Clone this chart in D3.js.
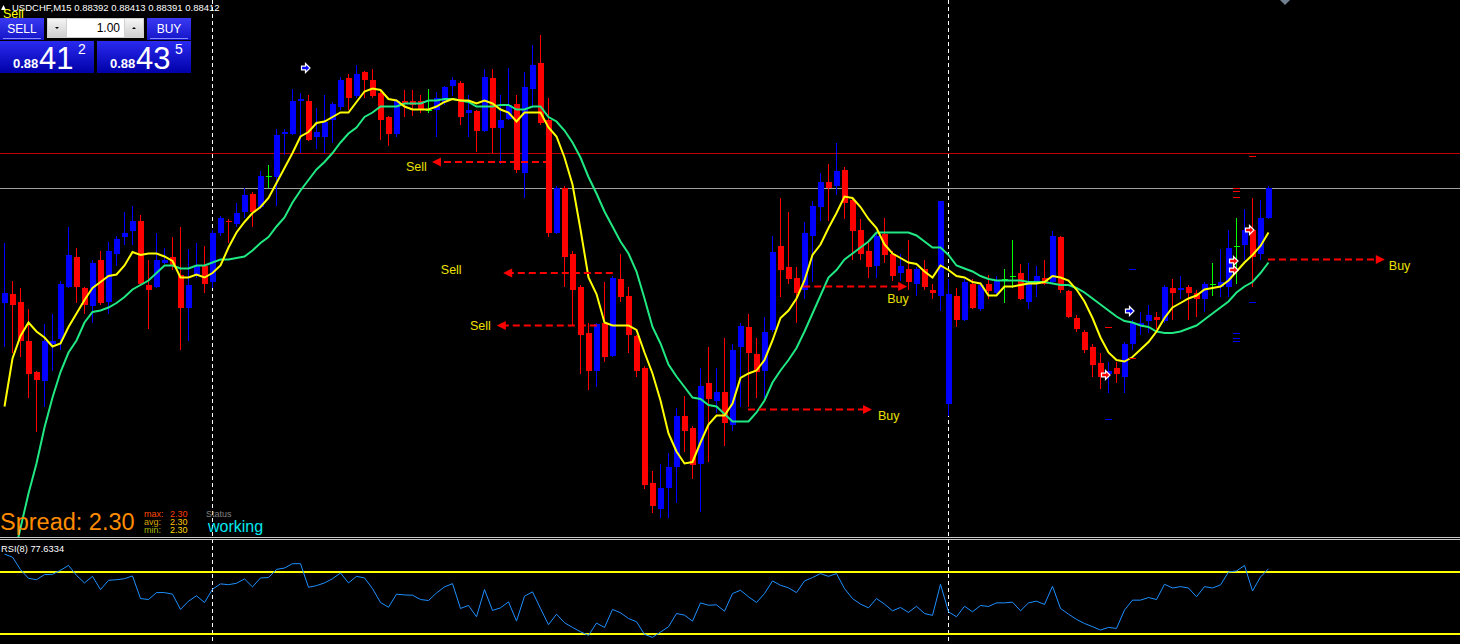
<!DOCTYPE html>
<html>
<head>
<meta charset="utf-8">
<script src="https://cdn.jsdelivr.net/npm/d3@7"></script>
<style>
  body { margin: 0; background: #000; overflow: hidden; }
  svg { display: block; }
</style>
</head>
<body>
<svg id="chart" width="1460" height="644"></svg>
<script>
// USDCHF M15 - prices in points (1 point = 0.00001)
const symbol = 'USDCHF,M15';

const opens = [88335,88341,88336,88310,88289,88283,88308,88311,88346,88366,
  88345,88333,88364,88336,88368,88379,88383,88390,88347,88346,
  88362,88366,88354,88332,88353,88360,88349,88382,88390,88388,
  88396,88408,88399,88420,88419,88448,88448,88470,88470,88446,
  88446,88457,88466,88485,88473,88489,88484,88475,88459,88448,
  88470,88470,88470,88464,88464,88469,88480,88482,88462,88463,
  88450,88485,88452,88458,88468,88422,88478,88495,88457,88382,
  88412,88368,88346,88315,88290,88322,88300,88351,88340,88313,
  88292,88215,88198,88212,88226,88260,88252,88228,88282,88270,
  88276,88254,88306,88319,88301,88290,88317,88373,88359,88352,
  88344,88380,88399,88416,88413,88424,88404,88384,88370,88360,
  88381,88368,88355,88358,88348,88358,88344,88340,88268,88340,
  88324,88348,88331,88348,88342,88351,88353,88355,88336,88349,
  88352,88349,88379,88343,88325,88316,88306,88295,88288,88292,
  88286,88308,88320,88323,88326,88323,88345,88344,88346,88342,
  88338,88348,88346,88346,88373,88374,88384,88368,88392];

const highs = [88375,88350,88345,88331,88290,88321,88328,88350,88386,88372,
  88346,88364,88370,88376,88380,88396,88400,88394,88364,88382,
  88372,88379,88386,88371,88375,88373,88384,88393,88391,88402,
  88412,88409,88423,88427,88451,88451,88478,88475,88474,88465,
  88474,88469,88486,88488,88494,88490,88491,88477,88460,88471,
  88477,88477,88474,88478,88476,88480,88486,88483,88474,88464,
  88491,88491,88474,88492,88474,88489,88507,88514,88472,88413,
  88413,88370,88347,88322,88322,88349,88353,88368,88346,88314,
  88293,88223,88228,88235,88265,88273,88253,88292,88306,88292,
  88312,88308,88322,88328,88312,88326,88380,88405,88396,88359,
  88389,88403,88422,88428,88442,88426,88406,88391,88375,88381,
  88392,88370,88368,88377,88359,88364,88348,88403,88351,88345,
  88351,88351,88348,88354,88353,88358,88377,88361,88362,88360,
  88364,88383,88380,88344,88327,88317,88308,88302,88296,88296,
  88309,88324,88329,88334,88329,88347,88351,88353,88347,88344,
  88349,88362,88371,88384,88392,88398,88405,88404,88413];

const lows = [88306,88302,88299,88272,88249,88266,88290,88304,88345,88335,
  88328,88322,88334,88328,88360,88374,88374,88347,88318,88345,
  88361,88357,88304,88310,88352,88342,88345,88380,88375,88386,
  88392,88386,88398,88412,88400,88434,88447,88435,88443,88438,
  88435,88442,88464,88464,88472,88472,88472,88444,88440,88446,
  88459,88460,88462,88462,88446,88467,88473,88454,88446,88436,
  88449,88435,88428,88457,88422,88405,88465,88454,88379,88381,
  88346,88320,88288,88277,88279,88296,88299,88336,88302,88286,
  88211,88195,88192,88192,88202,88236,88218,88196,88229,88262,
  88240,88250,88266,88266,88272,88272,88316,88339,88348,88322,
  88338,88349,88390,88390,88407,88391,88364,88364,88352,88352,
  88362,88350,88350,88344,88340,88344,88338,88330,88260,88319,
  88323,88331,88330,88338,88340,88335,88345,88337,88331,88339,
  88347,88348,88342,88325,88316,88302,88286,88278,88275,88282,
  88275,88304,88314,88315,88318,88322,88324,88338,88324,88326,
  88329,88340,88339,88339,88348,88364,88346,88364,88391];

const closes = [88342,88334,88310,88288,88284,88310,88310,88348,88367,88346,
  88334,88362,88335,88370,88378,88382,88390,88348,88344,88364,
  88364,88360,88332,88347,88360,88348,88382,88392,88389,88395,
  88407,88396,88420,88420,88447,88449,88470,88471,88444,88449,
  88456,88468,88484,88472,88488,88484,88473,88457,88448,88470,
  88468,88467,88464,88464,88472,88479,88484,88459,88464,88450,
  88486,88452,88457,88467,88424,88479,88494,88455,88382,88412,
  88366,88344,88314,88290,88321,88299,88352,88339,88314,88290,
  88214,88200,88212,88226,88260,88250,88227,88280,88271,88276,
  88255,88304,88320,88302,88289,88316,88369,88357,88351,88342,
  88382,88400,88416,88412,88423,88402,88383,88368,88359,88380,
  88367,88353,88360,88349,88358,88346,88342,88403,88341,88324,
  88349,88332,88347,88343,88350,88351,88353,88338,88350,88353,
  88348,88380,88344,88326,88318,88304,88294,88286,88290,88288,
  88308,88322,88322,88327,88324,88346,88342,88345,88342,88338,
  88348,88348,88349,88372,88373,88384,88366,88392,88412];

// moving averages as drawn (yellow fast, green slow)
const fastMA = [88266,88298,88313,88322,88316,88312,88306,88308,88319,88328,
  88337,88345,88349,88353,88354,88360,88369,88367,88368,88368,
  88366,88363,88352,88352,88354,88352,88355,88360,88372,88382,
  88389,88395,88399,88405,88415,88425,88435,88446,88449,88455,
  88456,88459,88462,88462,88469,88476,88478,88477,88471,88470,
  88466,88464,88464,88464,88466,88469,88471,88470,88470,88468,
  88470,88468,88464,88462,88456,88462,88462,88462,88452,88446,
  88432,88414,88384,88352,88341,88322,88320,88320,88320,88317,
  88302,88288,88270,88248,88236,88228,88229,88242,88254,88260,
  88260,88268,88285,88288,88290,88297,88310,88325,88330,88338,
  88350,88367,88374,88385,88395,88406,88405,88399,88391,88385,
  88374,88368,88365,88362,88361,88356,88352,88360,88357,88353,
  88352,88349,88348,88340,88340,88346,88346,88347,88348,88348,
  88349,88353,88352,88350,88344,88336,88325,88312,88302,88297,
  88296,88299,88304,88309,88316,88325,88332,88335,88338,88340,
  88344,88345,88346,88350,88356,88362,88367,88373,88382];

const slowMA = [88142,88162,88185,88208,88228,88252,88272,88289,88302,88310,
  88322,88329,88330,88332,88335,88339,88344,88347,88350,88355,
  88360,88360,88358,88358,88360,88360,88362,88364,88364,88365,
  88366,88370,88375,88379,88386,88392,88402,88410,88417,88424,
  88429,88435,88442,88448,88452,88459,88462,88466,88466,88466,
  88468,88468,88468,88470,88470,88471,88471,88470,88469,88466,
  88466,88466,88467,88467,88464,88464,88466,88466,88459,88456,
  88450,88442,88432,88419,88408,88396,88386,88376,88368,88356,
  88338,88319,88308,88294,88286,88279,88272,88271,88267,88266,
  88261,88256,88256,88256,88262,88270,88282,88290,88297,88305,
  88316,88328,88340,88352,88357,88364,88368,88372,88376,88382,
  88382,88382,88382,88382,88380,88376,88372,88372,88367,88360,
  88358,88356,88353,88351,88350,88350,88350,88350,88349,88349,
  88349,88348,88347,88347,88345,88342,88338,88334,88330,88326,
  88323,88322,88320,88319,88316,88315,88315,88316,88318,88320,
  88324,88328,88332,88336,88342,88346,88349,88355,88362];

const rsi = [89.4,87.0,76.9,69.9,68.8,72.9,73.1,76.4,80.3,72.3,
  66.2,71.5,60.8,68.3,68.8,69.6,71.8,53.6,52.8,58.4,
  58.4,57.1,44.8,51.5,55.8,50.4,61.1,65.4,64.8,65.9,
  69.4,63.0,70.2,70.5,77.1,78.2,81.7,81.7,62.7,64.0,
  66.2,69.6,74.2,66.2,71.5,70.2,61.6,50.4,46.6,57.1,
  56.5,56.3,52.8,52.0,58.1,63.0,65.6,45.6,48.0,38.9,
  60.8,44.0,46.1,50.9,35.4,55.5,59.0,45.6,32.5,41.0,
  34.1,30.3,26.8,23.9,33.8,30.3,44.8,42.1,37.5,34.9,
  24.7,22.3,26.6,30.8,41.5,40.2,35.4,50.1,48.2,48.5,
  43.4,57.6,60.3,55.0,50.4,57.6,67.8,64.3,62.2,58.4,
  67.8,70.5,73.7,71.5,73.7,61.6,53.6,49.1,46.1,53.6,
  49.1,43.7,46.4,42.4,47.4,41.5,40.0,65.1,42.9,38.9,
  47.4,42.9,48.0,47.2,50.1,50.1,50.7,43.7,50.1,51.5,
  48.8,63.5,45.6,41.0,36.8,33.5,30.9,28.2,30.3,29.5,
  44.3,52.3,52.3,54.4,52.8,65.1,62.1,63.2,62.1,55.0,
  63.2,62.1,64.6,75.0,75.8,80.3,59.7,71.0,77.6334];
const rsiLevels = [75, 25];

// day separators (candle index)
const separators = [26, 118];

// quotes
const bid = 88412, ask = 88435;
const spread = { cur: '2.30', max: '2.30', avg: '2.30', min: '2.30' };

// signal arrows with dashed lines
const sigLabels = ['Sell', 'Sell', 'Sell', 'Buy', 'Buy', 'Buy'];
const sigFrom = [68.25, 76.1, 74.1, 93, 99.9, 158];
const sigTo = [53.5, 62.4, 61.6, 108.5, 112.9, 172.6];
const sigPrice = [88429, 88355, 88320, 88264, 88346, 88364];
const sigTextIdx = [50.25, 54.6, 58.25, 109.25, 110.4, 173.1];
const sigTextPrice = [88426, 88357, 88320, 88260, 88338, 88360];

// arrow icons
const arrowIdx = [38, 141, 138, 154, 154, 156];
const arrowPrice = [88492, 88330, 88287, 88363, 88357, 88384];
const arrowSide = ['buy', 'buy', 'sell', 'sell', 'sell', 'sell'];

// short level ticks
const tickIdx = [156, 154, 154, 154, 138, 141, 141, 154, 154, 154, 156, 138];
const tickPrice = [88433, 88412, 88410, 88406, 88319, 88298, 88358, 88315, 88312, 88310, 88336, 88258];
const tickSide = ['sell', 'sell', 'sell', 'sell', 'sell', 'sell', 'buy', 'buy', 'buy', 'buy', 'buy', 'buy'];

const W = 1460, H = 644;
const mainBottom = 537;
const FONT = "'Liberation Sans', Arial, sans-serif";
const UP = '#0000ff', DOWN = '#ff0000', DOJI = '#00ff00';

const svg = d3.select('#chart');
svg.append('rect').attr('width', W).attr('height', H).attr('fill', '#000');

const x = d3.scaleLinear().domain([0, 158]).range([4, 1268]);
const y = d3.scaleLinear().domain([88179, 88537]).range([mainBottom, 0]);
const yR = d3.scaleLinear().domain([25, 75]).range([634, 572]);

const defs = svg.append('defs');
defs.append('clipPath').attr('id', 'clipMain')
  .append('rect').attr('x', 0).attr('y', 0).attr('width', W).attr('height', mainBottom);
defs.append('clipPath').attr('id', 'clipRsi')
  .append('rect').attr('x', 0).attr('y', 540).attr('width', W).attr('height', H - 540);

const grad = (id, top, bottom) => {
  const g = defs.append('linearGradient').attr('id', id)
    .attr('x1', 0).attr('y1', 0).attr('x2', 0).attr('y2', 1);
  g.append('stop').attr('offset', '0%').attr('stop-color', top);
  g.append('stop').attr('offset', '100%').attr('stop-color', bottom);
};
grad('gBtn', '#3a3af5', '#1414c8');
grad('gBox', '#2a2af0', '#0000a8');
grad('gSpin', '#f4f4f4', '#cfcfcf');

// day separators
svg.append('g').selectAll('line').data(separators).join('line')
  .attr('x1', d => x(d) + 0.5).attr('x2', d => x(d) + 0.5)
  .attr('y1', 0).attr('y2', H)
  .attr('stroke', '#ffffff').attr('stroke-width', 1)
  .attr('stroke-dasharray', '4,3');

const main = svg.append('g').attr('clip-path', 'url(#clipMain)');

// ask / bid lines
main.append('line')
  .attr('x1', 0).attr('x2', W).attr('y1', Math.round(y(ask)) + 0.5).attr('y2', Math.round(y(ask)) + 0.5)
  .attr('stroke', '#c00000');
main.append('line')
  .attr('x1', 0).attr('x2', W).attr('y1', Math.round(y(bid)) + 0.5).attr('y2', Math.round(y(bid)) + 0.5)
  .attr('stroke', '#a0a0a0');

// candles
const candles = opens.map((o, i) => ({ i, o, h: highs[i], l: lows[i], c: closes[i] }));
const colorOf = d => d.c > d.o ? UP : d.c < d.o ? DOWN : DOJI;
const cg = main.append('g').attr('shape-rendering', 'crispEdges');

cg.selectAll('line.wick').data(candles).join('line')
  .attr('class', 'wick')
  .attr('x1', d => x(d.i) + 0.5).attr('x2', d => x(d.i) + 0.5)
  .attr('y1', d => y(d.h)).attr('y2', d => y(d.l))
  .attr('stroke', colorOf);

cg.selectAll('rect.body').data(candles.filter(d => d.o !== d.c)).join('rect')
  .attr('class', 'body')
  .attr('x', d => x(d.i) - 2).attr('width', 6)
  .attr('y', d => y(Math.max(d.o, d.c)))
  .attr('height', d => Math.max(1, Math.abs(y(d.o) - y(d.c))))
  .attr('fill', colorOf);

cg.selectAll('line.doji').data(candles.filter(d => d.o === d.c)).join('line')
  .attr('class', 'doji')
  .attr('x1', d => x(d.i) - 2).attr('x2', d => x(d.i) + 4)
  .attr('y1', d => Math.round(y(d.o)) + 0.5).attr('y2', d => Math.round(y(d.o)) + 0.5)
  .attr('stroke', DOJI);

// moving averages
const maLine = d3.line().x((d, i) => x(i) + 0.5).y(d => y(d));
main.append('path').datum(slowMA)
  .attr('d', maLine).attr('fill', 'none')
  .attr('stroke', '#20e882').attr('stroke-width', 2);
main.append('path').datum(fastMA)
  .attr('d', maLine).attr('fill', 'none')
  .attr('stroke', '#ffff00').attr('stroke-width', 2);

// level ticks
main.append('g').attr('shape-rendering', 'crispEdges')
  .selectAll('line').data(tickIdx).join('line')
  .attr('x1', (d, k) => x(d) - 3).attr('x2', (d, k) => x(d) + 4)
  .attr('y1', (d, k) => Math.round(y(tickPrice[k])) + 0.5)
  .attr('y2', (d, k) => Math.round(y(tickPrice[k])) + 0.5)
  .attr('stroke', (d, k) => tickSide[k] === 'buy' ? UP : DOWN);

// signal dashed arrows
const sig = main.append('g').selectAll('g').data(sigLabels).join('g');
sig.append('line')
  .attr('x1', (d, k) => x(sigFrom[k]))
  .attr('x2', (d, k) => x(sigTo[k]) - Math.sign(sigTo[k] - sigFrom[k]) * 8)
  .attr('y1', (d, k) => y(sigPrice[k])).attr('y2', (d, k) => y(sigPrice[k]))
  .attr('stroke', '#ff0000').attr('stroke-width', 2)
  .attr('stroke-dasharray', '7,4');
sig.append('path')
  .attr('d', (d, k) => {
    const tx = x(sigTo[k]), ty = y(sigPrice[k]);
    const dir = Math.sign(sigTo[k] - sigFrom[k]);
    return `M${tx},${ty}L${tx - dir * 9},${ty - 4.5}L${tx - dir * 9},${ty + 4.5}Z`;
  })
  .attr('fill', '#ff0000');
sig.append('text')
  .attr('x', (d, k) => x(sigTextIdx[k]))
  .attr('y', (d, k) => y(sigTextPrice[k]))
  .attr('dy', '0.35em')
  .attr('fill', '#ece000')
  .style('font-family', FONT).style('font-size', '12.5px')
  .text(d => d);

// arrow icons
main.append('g').selectAll('path').data(arrowIdx).join('path')
  .attr('transform', (d, k) => `translate(${x(d) - 2.5},${Math.round(y(arrowPrice[k]))})`)
  .attr('d', 'M-4,-1.8L0,-1.8L0,-4.5L4.5,0L0,4.5L0,1.8L-4,1.8Z')
  .attr('fill', (d, k) => arrowSide[k] === 'buy' ? UP : DOWN)
  .attr('stroke', '#ffffff').attr('stroke-width', 1.2)
  .attr('stroke-linejoin', 'miter');

// panel borders
svg.append('g').attr('shape-rendering', 'crispEdges')
  .selectAll('line').data([537.5, 539.5]).join('line')
  .attr('x1', 0).attr('x2', W).attr('y1', d => d).attr('y2', d => d)
  .attr('stroke', '#c8c8c8');

// RSI window
const rsiG = svg.append('g').attr('clip-path', 'url(#clipRsi)');
rsiG.selectAll('line.lvl').data(rsiLevels).join('line')
  .attr('class', 'lvl')
  .attr('x1', 0).attr('x2', W).attr('y1', d => yR(d)).attr('y2', d => yR(d))
  .attr('stroke', '#ffff00').attr('stroke-width', 2);
rsiG.append('path').datum(rsi)
  .attr('d', d3.line().x((d, i) => x(i) + 0.5).y(d => yR(d)))
  .attr('fill', 'none').attr('stroke', '#1e90ff').attr('stroke-width', 1);

svg.append('text')
  .attr('x', 1).attr('y', 552)
  .attr('fill', '#ffffff')
  .style('font-family', FONT).style('font-size', '9.3px')
  .text(`RSI(8) ${d3.format('.4f')(rsi[rsi.length - 1])}`);

// header
const fmt = v => d3.format('.5f')(v / 1e5);
const last = candles[candles.length - 1];
svg.append('path').attr('d', 'M1,10L3.5,5L6,10Z').attr('fill', '#ffffff');
svg.append('text')
  .attr('x', 12).attr('y', 11)
  .attr('fill', '#ffffff')
  .style('font-family', FONT).style('font-size', '9.5px')
  .text(`${symbol}  ${fmt(last.o)} ${fmt(last.h)} ${fmt(last.l)} ${fmt(last.c)}`);
svg.append('text')
  .attr('x', 3).attr('y', 18)
  .attr('fill', '#ffff00')
  .style('font-family', FONT).style('font-size', '12.5px')
  .text('Sell');

// chart shift marker
svg.append('path').attr('d', 'M1280,0L1290,0L1285,5Z').attr('fill', '#708090');

// one-click trading panel
const panel = svg.append('g');
[[0, 'SELL'], [147, 'BUY']].forEach(([bx, label]) => {
  panel.append('rect').attr('x', bx).attr('y', 18).attr('width', 44).attr('height', 22)
    .attr('fill', 'url(#gBtn)');
  panel.append('line').attr('x1', bx + 3).attr('x2', bx + 41).attr('y1', 38.5).attr('y2', 38.5)
    .attr('stroke', '#8a8aff');
  panel.append('text').attr('x', bx + 22).attr('y', 33).attr('text-anchor', 'middle')
    .attr('fill', '#ffffff')
    .style('font-family', FONT).style('font-size', '12px')
    .text(label);
});
panel.append('rect').attr('x', 47).attr('y', 18).attr('width', 97).attr('height', 20)
  .attr('fill', '#d0d0d0');
panel.append('rect').attr('x', 48).attr('y', 19).attr('width', 18).attr('height', 18)
  .attr('fill', 'url(#gSpin)');
panel.append('rect').attr('x', 125).attr('y', 19).attr('width', 18).attr('height', 18)
  .attr('fill', 'url(#gSpin)');
panel.append('rect').attr('x', 67).attr('y', 19).attr('width', 57).attr('height', 18)
  .attr('fill', '#ffffff');
panel.append('path').attr('d', 'M55,27L59,27L57,29Z').attr('fill', '#000');
panel.append('path').attr('d', 'M132,29L136,29L134,27Z').attr('fill', '#000');
panel.append('text').attr('x', 120).attr('y', 32).attr('text-anchor', 'end')
  .attr('fill', '#000')
  .style('font-family', FONT).style('font-size', '12px')
  .text('1.00');

[[0, bid], [97, ask]].forEach(([bx, p]) => {
  const s = fmt(p);
  panel.append('rect').attr('x', bx).attr('y', 41).attr('width', 94).attr('height', 32)
    .attr('fill', 'url(#gBox)');
  panel.append('text').attr('x', bx + 13).attr('y', 68)
    .attr('fill', '#ffffff').style('font-family', FONT).style('font-size', '13px')
    .style('font-weight', 'bold')
    .text(s.slice(0, 4));
  panel.append('text').attr('x', bx + 39).attr('y', 69)
    .attr('fill', '#ffffff').style('font-family', FONT).style('font-size', '31px')
    .text(s.slice(4, 6));
  panel.append('text').attr('x', bx + 78).attr('y', 54)
    .attr('fill', '#ffffff').style('font-family', FONT).style('font-size', '14px')
    .text(s.slice(6));
});

// spread info
svg.append('text').attr('x', 0).attr('y', 530)
  .attr('fill', '#ff8c00').style('font-family', FONT).style('font-size', '23.5px')
  .text(`Spread: ${spread.cur}`);
const stats = [['max:', spread.max, '#ff4a00', '#ff3c00'],
               ['avg:', spread.avg, '#d8a400', '#ffc400'],
               ['min:', spread.min, '#a8b800', '#ffd800']];
stats.forEach(([lab, val, c1, c2], k) => {
  svg.append('text').attr('x', 144).attr('y', 517 + k * 7.8)
    .attr('fill', c1).style('font-family', FONT).style('font-size', '9px').text(lab);
  svg.append('text').attr('x', 170).attr('y', 517 + k * 7.8)
    .attr('fill', c2).style('font-family', FONT).style('font-size', '9px').text(val);
});
svg.append('text').attr('x', 206).attr('y', 517)
  .attr('fill', '#808080').style('font-family', FONT).style('font-size', '9px').text('Status');
svg.append('text').attr('x', 208).attr('y', 532)
  .attr('fill', '#00e8f0').style('font-family', FONT).style('font-size', '16px').text('working');
</script>
</body>
</html>
